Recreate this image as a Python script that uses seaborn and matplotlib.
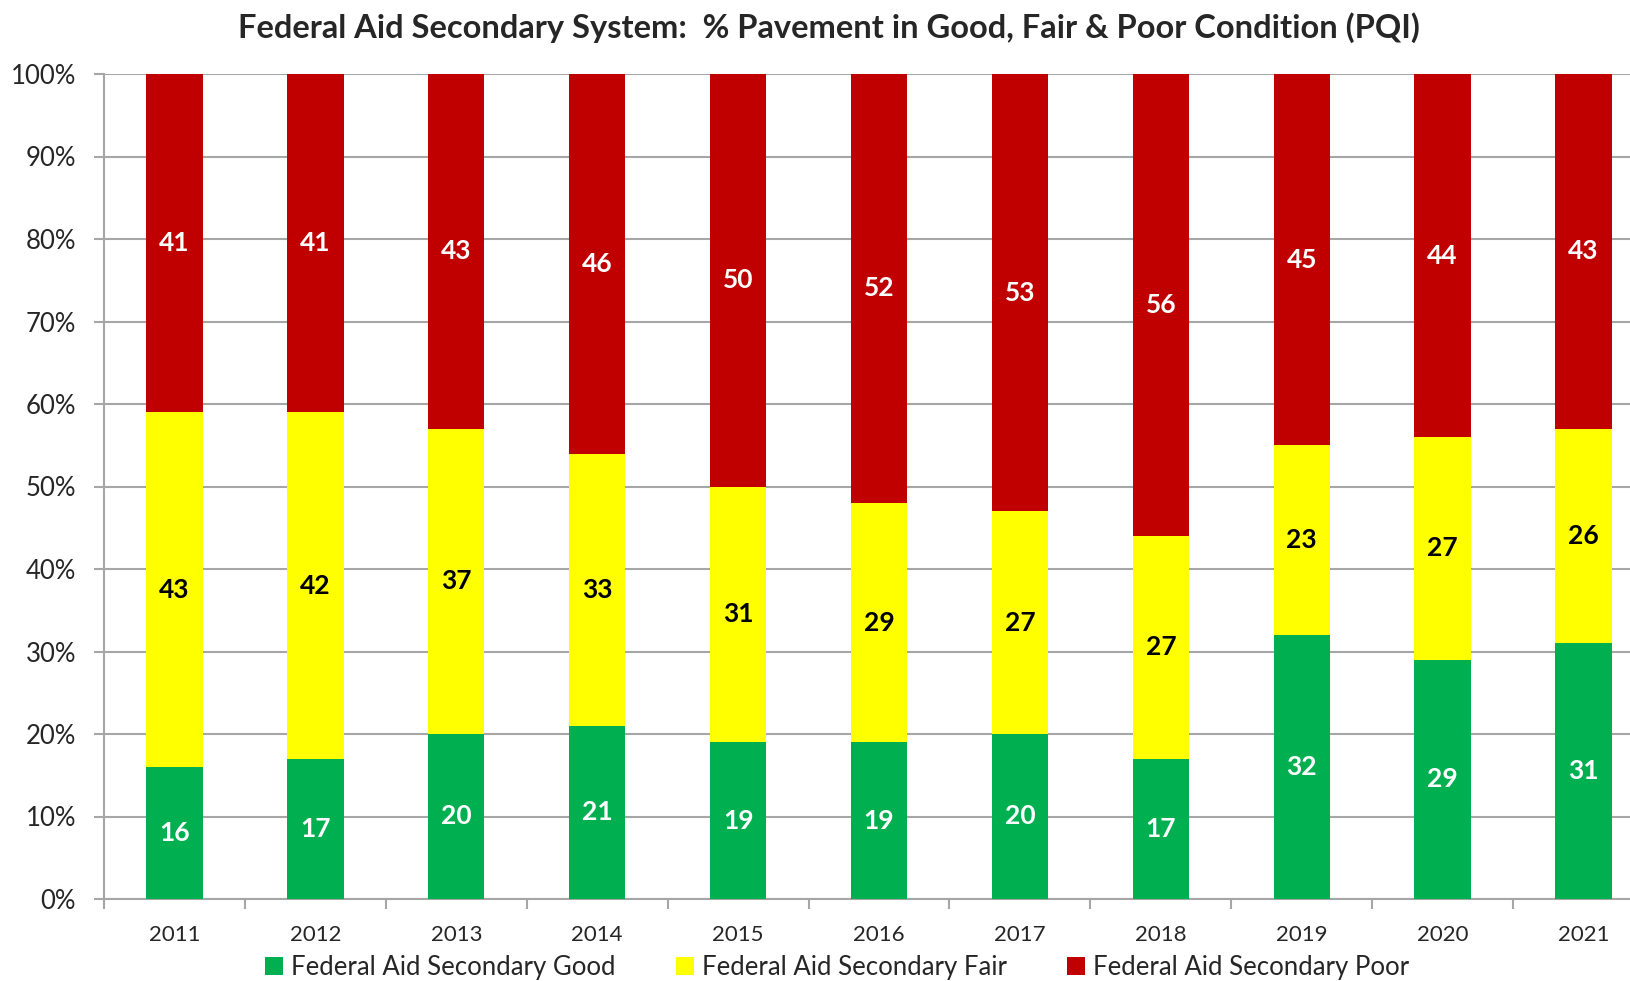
import pandas as pd
import numpy as np
import matplotlib
matplotlib.use('Agg')
import matplotlib.pyplot as plt
import seaborn as sns
from matplotlib.patches import Patch
from matplotlib.ticker import FixedLocator

# ------- data (percent of pavement) ------- #
years = ['2011', '2012', '2013', '2014', '2015', '2016', '2017', '2018', '2019', '2020', '2021']
good = [16, 17, 20, 21, 19, 19, 20, 17, 32, 29, 31]
fair = [43, 42, 37, 33, 31, 29, 27, 27, 23, 27, 26]
poor = [41, 41, 43, 46, 50, 52, 53, 56, 45, 44, 43]

series_names = ['Federal Aid Secondary Good', 'Federal Aid Secondary Fair', 'Federal Aid Secondary Poor']
colors = ['#00B050', '#FFFF00', '#C00000']
label_colors = ['white', 'black', 'white']

df = pd.DataFrame({'year': years, 'good': good, 'fair': fair, 'poor': poor})
df['good_top'] = df['good']
df['fair_top'] = df['good'] + df['fair']
df['poor_top'] = df['good'] + df['fair'] + df['poor']

sns.set_style('white')
plt.rcParams['font.family'] = ['Lato', 'DejaVu Sans']

fig = plt.figure(figsize=(16.31, 9.81), dpi=100)
ax = fig.add_axes([104 / 1631, 1 - 899 / 981, 1550 / 1631, 825 / 981])

# stacked bars: draw the cumulative tops back to front
for col, c in zip(['poor_top', 'fair_top', 'good_top'], colors[::-1]):
    sns.barplot(data=df, x='year', y=col, color=c, width=0.4, saturation=1,
                linewidth=0, ax=ax, zorder=3)

# segment labels, centred in each segment
bottoms = np.zeros(len(years))
for vals, lc in zip([good, fair, poor], label_colors):
    vals = np.array(vals)
    for i, v in enumerate(vals):
        ax.text(i, bottoms[i] + v / 2, str(v), ha='center', va='center',
                color=lc, fontsize=19, fontweight='bold', zorder=4)
    bottoms += vals

ax.set_xlim(-0.5, len(years) - 0.5)
ax.set_ylim(0, 100)
ax.set_yticks(range(0, 101, 10))
ax.set_yticklabels([f'{t}%' for t in range(0, 101, 10)], fontsize=18.5)
ax.yaxis.grid(True, color='#A6A6A6', linewidth=1.5, zorder=0)
ax.set_axisbelow(True)
ax.set_xlabel('')
ax.set_ylabel('')
ax.tick_params(axis='y', direction='out', length=7, width=1.5, color='#A6A6A6', pad=13, left=True)
ax.tick_params(axis='x', which='major', length=0, pad=19, labelsize=16)
ax.xaxis.set_minor_locator(FixedLocator(np.arange(-0.5, len(years), 1)))
ax.tick_params(axis='x', which='minor', direction='out', length=7, width=1.5, color='#A6A6A6', bottom=True)

for s in ['top', 'right']:
    ax.spines[s].set_visible(False)
for s in ['left', 'bottom']:
    ax.spines[s].set_color('#A6A6A6')
    ax.spines[s].set_linewidth(1.5)

fig.text(829 / 1631, 1 - 28 / 981, 'Federal Aid Secondary System:  % Pavement in Good, Fair & Poor Condition (PQI)',
         ha='center', va='center', fontsize=23.5, fontweight='bold')

handles = [Patch(facecolor=c, edgecolor='none', label=n) for c, n in zip(colors, series_names)]
fig.legend(handles=handles, loc='center', bbox_to_anchor=(837 / 1631, 1 - 967 / 981), ncol=3,
           frameon=False, fontsize=18.5, handlelength=0.7, handleheight=0.7, handletextpad=0.3,
           columnspacing=2.35, borderpad=0)

fig.savefig('out.png', dpi=100)
